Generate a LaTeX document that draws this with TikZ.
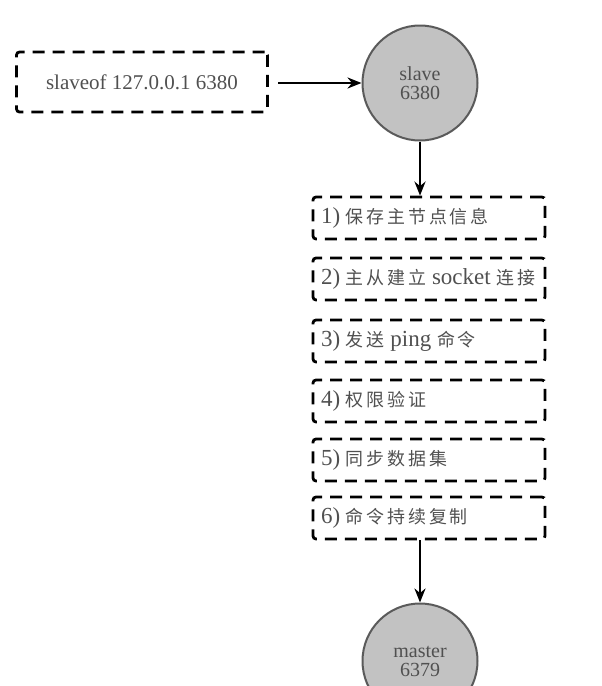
\documentclass[tikz,border=0pt]{standalone}
\usepackage{fontspec}
\setmainfont{Liberation Serif}
\newfontfamily\cjkf[LetterSpace=16,Scale=0.78]{Noto Sans CJK SC}
\newcommand{\zh}[1]{{\cjkf #1}}
\newcommand{\boxtext}[1]{\makebox[216pt][l]{#1}}
\usetikzlibrary{arrows.meta}
\definecolor{txtgray}{HTML}{505050}
\definecolor{circfill}{HTML}{C2C2C2}
\definecolor{circline}{HTML}{5A5A5A}
\begin{document}
\begin{tikzpicture}[x=1pt,y=-1pt,
  dbox/.style={draw=black, line width=2.8pt, dash pattern=on 12pt off 8pt, rounded corners=3pt,
    minimum width=232pt, minimum height=42pt, inner sep=0pt,
    text=txtgray, font=\fontsize{23}{24}\selectfont},
  circ/.style={circle, draw=circline, fill=circfill, line width=2pt, minimum size=115pt,
    align=center, text=txtgray, font=\fontsize{20}{22}\selectfont},
  arr/.style={line width=2.4pt, -{Stealth[length=14pt,width=11pt]}}
]
\useasboundingbox (0,0) rectangle (602,686);
\node[dbox, minimum width=251pt, minimum height=60pt,
  font=\fontsize{21}{24}\selectfont] (cmd) at (142,82) {slaveof 127.0.0.1 6380};
\node[circ] (slave) at (420,83) {slave\\[-3pt]6380};
\node[dbox] (b1) at (429,218) {\boxtext{1) \zh{保存主节点信息}}};
\node[dbox] (b2) at (429,279) {\boxtext{2) \zh{主从建立} socket \zh{连接}}};
\node[dbox] (b3) at (429,341) {\boxtext{3) \zh{发送} ping \zh{命令}}};
\node[dbox] (b4) at (429,401) {\boxtext{4) \zh{权限验证}}};
\node[dbox] (b5) at (429,460) {\boxtext{5) \zh{同步数据集}}};
\node[dbox] (b6) at (429,518) {\boxtext{6) \zh{命令持续复制}}};
\node[circ] (master) at (420,661) {master\\[-3pt]6379};
\coordinate (s1) at (278,83);
\draw[arr] (s1) -- (slave.west);
\draw[arr] (slave.south) -- (slave.south |- b1.north);
\draw[arr] (b6.south -| master.north) -- (master.north);
\end{tikzpicture}
\end{document}
